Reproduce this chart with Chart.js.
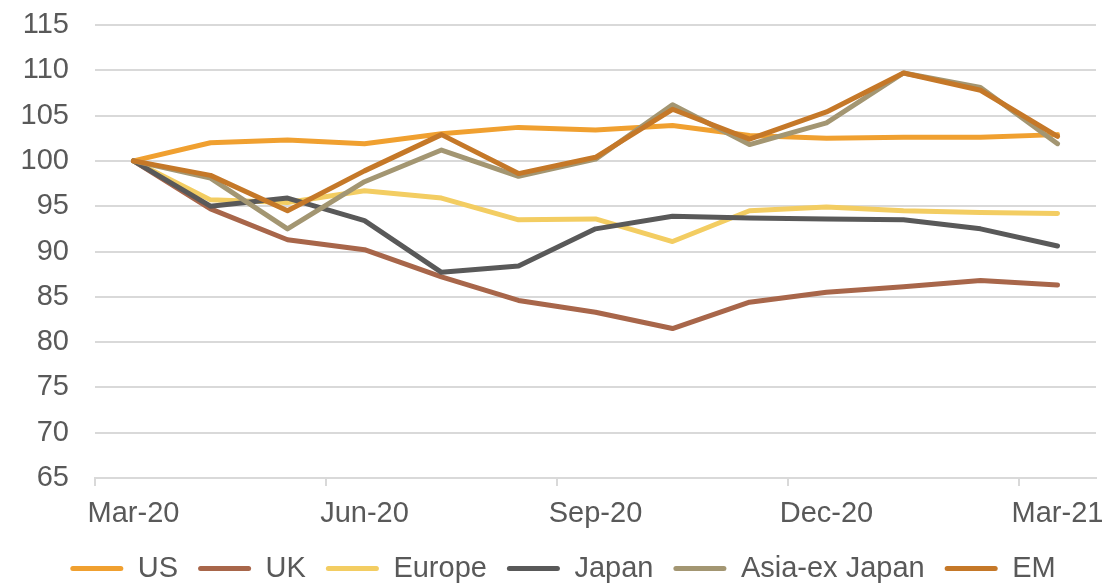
<!DOCTYPE html>
<html>
<head>
<meta charset="utf-8">
<script src="https://cdn.jsdelivr.net/npm/chart.js@4/dist/chart.umd.min.js"></script>
<style>
  html, body { margin: 0; padding: 0; background: #fff; }
  #wrap { width: 1104px; height: 583px; position: relative; }
</style>
</head>
<body>
<div id="wrap"><canvas id="chart"></canvas></div>
<script>
// months (monthly index, base Mar-20 = 100)
const months = ["Mar-20", "Apr-20", "May-20", "Jun-20", "Jul-20", "Aug-20", "Sep-20",
                "Oct-20", "Nov-20", "Dec-20", "Jan-21", "Feb-21", "Mar-21"];

const us     = [100, 102.0, 102.3, 101.9, 103.0, 103.7, 103.4, 103.9, 102.8, 102.5, 102.6, 102.6, 102.9];
const uk     = [100, 94.7, 91.3, 90.2, 87.2, 84.6, 83.3, 81.5, 84.4, 85.5, 86.1, 86.8, 86.3];
const europe = [100, 95.7, 95.4, 96.7, 95.9, 93.5, 93.6, 91.1, 94.5, 94.9, 94.5, 94.3, 94.2];
const japan  = [100, 95.0, 95.9, 93.4, 87.7, 88.4, 92.5, 93.9, 93.7, 93.6, 93.5, 92.5, 90.6];
const asiaEx = [100, 98.1, 92.5, 97.7, 101.2, 98.3, 100.2, 106.2, 101.8, 104.2, 109.7, 108.1, 101.9];
const em     = [100, 98.4, 94.5, 98.9, 102.9, 98.6, 100.4, 105.7, 102.4, 105.4, 109.7, 107.8, 102.7];

const seriesNames  = ["US", "UK", "Europe", "Japan", "Asia-ex Japan", "EM"];
const seriesData   = [us, uk, europe, japan, asiaEx, em];
const seriesColors = ["#F0A030", "#A8664A", "#F3CD62", "#595959", "#A39672", "#C57828"];

const yTicks = { min: 65, max: 115, step: 5 };

const TEXT = "#595959";
const GRID = "#d9d9d9";
const FONT = "'Liberation Sans', Arial, sans-serif";
const FS = 29;

const datasets = seriesNames.map((name, i) => ({
  label: name,
  data: seriesData[i],
  borderColor: seriesColors[i],
  backgroundColor: seriesColors[i],
  borderWidth: 5,
  pointRadius: 0,
  tension: 0,
  borderCapStyle: "round",
  borderJoinStyle: "round",
  order: seriesNames.length - i   // later series drawn on top, like Excel
}));

// nudge the legend a bit to the right, like in the original
const legendShift = {
  id: "legendShift",
  afterLayout(chart) {
    chart.legend.left += 15;
    chart.legend.right += 15;
  }
};

const ctx = document.getElementById("chart").getContext("2d");
new Chart(ctx, {
  type: "line",
  data: { labels: months, datasets: datasets },
  plugins: [legendShift],
  options: {
    responsive: true,
    maintainAspectRatio: false,
    animation: false,
    layout: { padding: { left: 0, right: 8, top: 25, bottom: -10 } },
    plugins: {
      tooltip: { enabled: false },
      legend: {
        position: "bottom",
        labels: {
          font: { family: FONT, size: FS },
          color: TEXT,
          boxWidth: 53,
          boxHeight: 5,
          padding: 20,
          useBorderRadius: true,
          borderRadius: 2.5,
          sort: (a, b) => a.datasetIndex - b.datasetIndex,
          generateLabels: (chart) => chart.data.datasets.map((d, i) => ({
            text: d.label,
            fillStyle: d.borderColor,
            strokeStyle: d.borderColor,
            lineWidth: 0,
            fontColor: TEXT,
            datasetIndex: i,
            borderRadius: 2.5
          }))
        }
      }
    },
    scales: {
      x: {
        type: "category",
        offset: true,
        afterFit: (s) => { s.height = 56; s.paddingLeft = 0; s.paddingRight = 0; },
        grid: {
          offset: true,
          drawOnChartArea: false,
          drawTicks: true,
          tickLength: 8,
          lineWidth: 2,
          color: (c) => (c.index % 3 === 0 ? GRID : "rgba(0,0,0,0)")
        },
        border: { display: true, color: GRID, width: 2 },
        ticks: {
          autoSkip: false,
          maxRotation: 0,
          padding: 11,
          color: TEXT,
          font: { family: FONT, size: FS },
          callback: function (val, idx) { return idx % 3 === 0 ? months[idx] : ""; }
        }
      },
      y: {
        min: yTicks.min,
        max: yTicks.max,
        afterFit: (s) => { s.width = 95; s.paddingTop = 0; s.paddingBottom = 0; },
        grid: { color: GRID, lineWidth: 2, drawTicks: false },
        border: { display: false },
        ticks: {
          stepSize: yTicks.step,
          padding: 26,
          color: TEXT,
          font: { family: FONT, size: FS }
        }
      }
    }
  }
});
</script>
</body>
</html>
